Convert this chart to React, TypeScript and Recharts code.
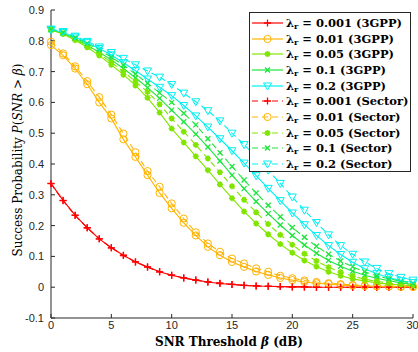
import React from "react";
import { LineChart, Line, XAxis, YAxis, Legend, Label } from "recharts";

// SNR threshold (dB)
const betas = [0, 1, 2, 3, 4, 5, 6, 7, 8, 9, 10, 11, 12, 13, 14, 15, 16, 17, 18, 19, 20, 21, 22, 23, 24, 25, 26, 27, 28, 29, 30];

// success probability, 3GPP model
const p3gpp001 = [0.337, 0.282, 0.234, 0.193, 0.157, 0.128, 0.104, 0.082, 0.066, 0.05, 0.039, 0.03, 0.023, 0.017, 0.012, 0.009, 0.006, 0.004, 0.003, 0.002, 0.001, 0.001, 0, 0, 0, 0, 0, 0, 0, 0, 0];
const p3gpp01 = [0.786, 0.753, 0.71, 0.659, 0.6, 0.548, 0.48, 0.423, 0.364, 0.306, 0.256, 0.209, 0.168, 0.131, 0.104, 0.082, 0.066, 0.051, 0.04, 0.03, 0.023, 0.017, 0.013, 0.01, 0.007, 0.005, 0.004, 0.003, 0.002, 0.001, 0.001];
const p3gpp05 = [0.835, 0.822, 0.802, 0.779, 0.752, 0.722, 0.69, 0.655, 0.615, 0.567, 0.515, 0.47, 0.425, 0.38, 0.334, 0.289, 0.246, 0.207, 0.172, 0.14, 0.112, 0.087, 0.067, 0.05, 0.037, 0.027, 0.02, 0.014, 0.01, 0.007, 0.004];
const p3gpp1 = [0.836, 0.825, 0.807, 0.786, 0.763, 0.738, 0.71, 0.68, 0.648, 0.613, 0.575, 0.537, 0.497, 0.455, 0.41, 0.364, 0.32, 0.278, 0.239, 0.202, 0.168, 0.137, 0.11, 0.087, 0.068, 0.052, 0.039, 0.029, 0.021, 0.014, 0.009];
const p3gpp2 = [0.836, 0.827, 0.812, 0.794, 0.775, 0.754, 0.729, 0.703, 0.676, 0.649, 0.622, 0.59, 0.556, 0.52, 0.482, 0.443, 0.403, 0.362, 0.321, 0.281, 0.241, 0.203, 0.168, 0.135, 0.106, 0.081, 0.06, 0.044, 0.031, 0.021, 0.015];

// success probability, sector model
const pSec001 = [0.336, 0.281, 0.233, 0.193, 0.157, 0.128, 0.103, 0.082, 0.065, 0.05, 0.039, 0.03, 0.023, 0.017, 0.013, 0.009, 0.006, 0.004, 0.003, 0.002, 0.001, 0.001, 0, 0, 0, 0, 0, 0, 0, 0, 0];
const pSec01 = [0.797, 0.759, 0.717, 0.669, 0.617, 0.56, 0.499, 0.438, 0.377, 0.326, 0.272, 0.223, 0.178, 0.142, 0.115, 0.093, 0.077, 0.061, 0.05, 0.037, 0.029, 0.022, 0.017, 0.013, 0.01, 0.007, 0.005, 0.004, 0.003, 0.002, 0.001];
const pSec05 = [0.836, 0.824, 0.805, 0.783, 0.758, 0.73, 0.7, 0.668, 0.634, 0.594, 0.548, 0.505, 0.462, 0.418, 0.373, 0.328, 0.284, 0.243, 0.205, 0.17, 0.138, 0.109, 0.085, 0.065, 0.049, 0.036, 0.026, 0.019, 0.013, 0.009, 0.006];
const pSec1 = [0.837, 0.826, 0.81, 0.791, 0.77, 0.747, 0.721, 0.692, 0.662, 0.631, 0.6, 0.565, 0.527, 0.482, 0.437, 0.392, 0.348, 0.306, 0.266, 0.229, 0.194, 0.162, 0.133, 0.107, 0.085, 0.066, 0.05, 0.037, 0.027, 0.019, 0.013];
const pSec2 = [0.838, 0.83, 0.815, 0.798, 0.78, 0.762, 0.743, 0.722, 0.702, 0.682, 0.658, 0.63, 0.602, 0.573, 0.54, 0.5, 0.463, 0.423, 0.38, 0.337, 0.293, 0.25, 0.21, 0.17, 0.135, 0.107, 0.082, 0.061, 0.044, 0.032, 0.023];

const xTicks = [0, 5, 10, 15, 20, 25, 30];
const yTicks = [-0.1, 0, 0.1, 0.2, 0.3, 0.4, 0.5, 0.6, 0.7, 0.8, 0.9];

type Kind = "plus" | "circle" | "star" | "cross" | "tri";

const series = [
  { key: "g001", lam: "0.001", src: "3GPP", color: "#ff0000", kind: "plus", dashed: false, values: p3gpp001 },
  { key: "g01", lam: "0.01", src: "3GPP", color: "#ffb300", kind: "circle", dashed: false, values: p3gpp01 },
  { key: "g05", lam: "0.05", src: "3GPP", color: "#80e600", kind: "star", dashed: false, values: p3gpp05 },
  { key: "g1", lam: "0.1", src: "3GPP", color: "#1ee63c", kind: "cross", dashed: false, values: p3gpp1 },
  { key: "g2", lam: "0.2", src: "3GPP", color: "#00f0f0", kind: "tri", dashed: false, values: p3gpp2 },
  { key: "s001", lam: "0.001", src: "Sector", color: "#ff0000", kind: "plus", dashed: true, values: pSec001 },
  { key: "s01", lam: "0.01", src: "Sector", color: "#ffb300", kind: "circle", dashed: true, values: pSec01 },
  { key: "s05", lam: "0.05", src: "Sector", color: "#80e600", kind: "star", dashed: true, values: pSec05 },
  { key: "s1", lam: "0.1", src: "Sector", color: "#1ee63c", kind: "cross", dashed: true, values: pSec1 },
  { key: "s2", lam: "0.2", src: "Sector", color: "#00f0f0", kind: "tri", dashed: true, values: pSec2 },
] as const;

const data = betas.map((b, i) => {
  const row: Record<string, number> = { beta: b };
  series.forEach((s) => (row[s.key] = s.values[i]));
  return row;
});

const axisColor = "#262626";
const tickFont = { fontFamily: "Liberation Sans", fontSize: 11, fill: axisColor };

function Marker({ kind, cx, cy, color }: { kind: Kind; cx: number; cy: number; color: string }) {
  if (kind === "plus")
    return <path d={`M${cx - 3.5},${cy}H${cx + 3.5}M${cx},${cy - 3.5}V${cy + 3.5}`} stroke={color} strokeWidth={1.3} fill="none" />;
  if (kind === "circle") return <circle cx={cx} cy={cy} r={3.6} stroke={color} strokeWidth={1} fill="none" />;
  if (kind === "star") {
    const d = 2.1;
    return (
      <path
        d={`M${cx - 3},${cy}H${cx + 3}M${cx},${cy - 3}V${cy + 3}M${cx - d},${cy - d}L${cx + d},${cy + d}M${cx - d},${cy + d}L${cx + d},${cy - d}`}
        stroke={color}
        strokeWidth={1.6}
        fill="none"
      />
    );
  }
  if (kind === "cross")
    return <path d={`M${cx - 2.5},${cy - 2.5}L${cx + 2.5},${cy + 2.5}M${cx - 2.5},${cy + 2.5}L${cx + 2.5},${cy - 2.5}`} stroke={color} strokeWidth={1.3} fill="none" />;
  return <path d={`M${cx - 4},${cy - 3}L${cx + 4},${cy - 3}L${cx},${cy + 4}Z`} stroke={color} strokeWidth={1} fill="none" />;
}

function renderLegend() {
  return (
    <div
      style={{
        width: 162,
        height: 160,
        boxSizing: "border-box",
        border: `1px solid ${axisColor}`,
        background: "#fff",
        padding: "2px 0 0 2px",
        fontFamily: "DejaVu Serif",
        fontWeight: "bold",
        fontSize: 11.5,
        color: "#000",
      }}
    >
      {series.map((s) => (
        <div key={s.key} style={{ display: "flex", alignItems: "center", height: 15.7, whiteSpace: "nowrap" }}>
          <svg width={31} height={12} style={{ flex: "none" }}>
            <line x1={0} y1={6} x2={31} y2={6} stroke={s.color} strokeWidth={1.2} strokeDasharray={s.dashed ? "6 4" : undefined} />
            <Marker kind={s.kind} cx={15.5} cy={6} color={s.color} />
          </svg>
          <span style={{ marginLeft: 3 }}>
            λ<sub style={{ fontSize: 8, verticalAlign: -2, lineHeight: 0 }}>r</sub> = {s.lam} ({s.src})
          </span>
        </div>
      ))}
    </div>
  );
}

export default function App() {
  return (
    <div style={{ position: "absolute", left: 0, top: 0, width: 418, height: 352, background: "#fff" }}>
      <LineChart width={418} height={352} data={data} margin={{ top: 10, right: 5, bottom: 0, left: 0 }}>
        <XAxis
          dataKey="beta"
          type="number"
          domain={[0, 30]}
          ticks={xTicks}
          height={34}
          stroke={axisColor}
          tickSize={-4}
          tickMargin={7}
          tick={tickFont}
        >
          <Label
            content={() => (
              <text x={229} y={346} textAnchor="middle" fontFamily="DejaVu Serif" fontWeight="bold" fontSize={12} fill="#000">
                SNR Threshold <tspan fontStyle="italic">β</tspan> (dB)
              </text>
            )}
          />
        </XAxis>
        <XAxis xAxisId="top" orientation="top" type="number" domain={[0, 30]} ticks={xTicks} height={0} stroke={axisColor} tickSize={-4} tickFormatter={() => ""} />
        <YAxis
          type="number"
          domain={[-0.1, 0.9]}
          ticks={yTicks}
          width={51}
          stroke={axisColor}
          tickSize={-4}
          tickMargin={11}
          tick={tickFont}
          tickFormatter={(v: number) => String(v)}
        >
          <Label
            content={() => (
              <text x={22} y={160} transform="rotate(-90 22 160)" textAnchor="middle" fontFamily="DejaVu Serif" fontSize={12} fill="#000">
                Success Probability <tspan fontStyle="italic">P</tspan>(<tspan fontStyle="italic">SNR</tspan> &gt; <tspan fontStyle="italic">β</tspan>)
              </text>
            )}
          />
        </YAxis>
        <YAxis yAxisId="right" orientation="right" type="number" domain={[-0.1, 0.9]} ticks={yTicks} width={0} stroke={axisColor} tickSize={-4} tickFormatter={() => ""} />
        <Legend layout="vertical" align="center" verticalAlign="middle" content={renderLegend} wrapperStyle={{ left: 249, top: 12, width: 162, height: 160 }} />
        {series.map((s) => (
          <Line
            key={s.key}
            dataKey={s.key}
            name={s.key}
            stroke={s.color}
            strokeWidth={1.1}
            strokeDasharray={s.dashed ? "6 4" : undefined}
            isAnimationActive={false}
            dot={(p: any) => (
              <g key={`${s.key}-${p.index}`}>
                <Marker kind={s.kind} cx={p.cx} cy={p.cy} color={s.color} />
              </g>
            )}
            activeDot={false}
          />
        ))}
      </LineChart>
    </div>
  );
}
